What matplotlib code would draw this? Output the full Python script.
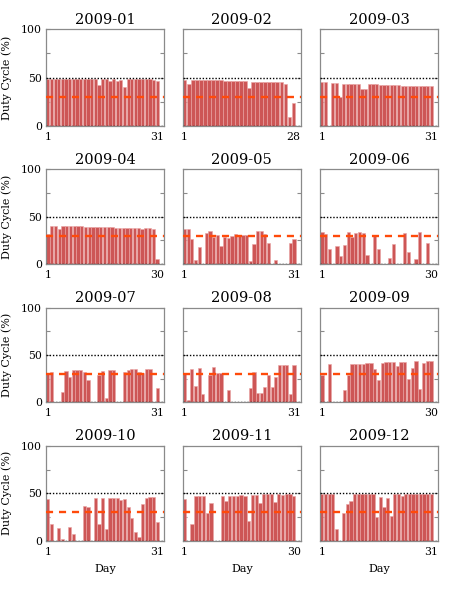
import matplotlib
matplotlib.use("Agg")
import matplotlib.pyplot as plt
import numpy as np

months = ["2009-01", "2009-02", "2009-03", "2009-04", "2009-05", "2009-06",
          "2009-07", "2009-08", "2009-09", "2009-10", "2009-11", "2009-12"]

jan = [49, 49, 49, 49, 49, 48.5, 49, 49, 49, 49, 49, 49, 49, 49, 42, 49, 49, 47, 48.5, 47,
       48, 40, 49, 49, 49, 49, 48.8, 48.8, 48.5, 48, 47]
feb = [47.6, 43.7, 47.6, 47.3, 47.3, 47.3, 47.3, 47.3, 47.3, 47.3, 46.5, 46.5, 46.8, 46.8,
       46.8, 46.2, 39, 45.8, 45.8, 45.8, 45.8, 45.8, 45.8, 45, 45, 43.4, 9, 24]
mar = [45, 45, 0, 44.3, 44.3, 30.5, 43.5, 43.8, 43.5, 43.3, 43.3, 38.5, 38.5, 43, 43, 43,
       42, 42.3, 42.3, 42, 42, 42, 41.8, 41.8, 41.5, 41.5, 41.3, 41.3, 41, 41, 41]
apr = [32, 40, 40, 36.7, 40, 40, 39.8, 39.8, 39.6, 39.6, 39.3, 39, 38.8, 38.8, 38.8, 38.8,
       38.6, 38.6, 38.3, 38.3, 38, 38, 38, 38, 37.5, 36.5, 37.5, 37.5, 36.5, 5]
may = [37, 37, 26, 4.5, 18, 0, 33, 35, 28, 31, 19, 29, 27, 29.5, 31.5, 30.5, 30.5, 31, 3.5,
       20.6, 35, 35, 31.5, 22.7, 0, 4.5, 0, 0, 0, 21.7, 26.6]
jun = [33.6, 31.5, 15.4, 0, 19, 8.4, 20, 33.6, 28.7, 33, 33.6, 32.5, 9, 0, 29.7, 16, 0, 0,
       6, 20.6, 0, 0, 33.2, 13, 0, 5, 33.6, 0, 22, 0]
jul = [30, 32, 0, 0, 11, 32.7, 27, 34, 34, 34, 32, 24, 0, 0, 29, 32.7, 5, 33.8, 33.8, 0, 0,
       32, 34.5, 35.6, 35.6, 32.4, 30.6, 35.6, 35, 0, 14.8]
aug = [30, 2.5, 35.6, 17.3, 36.3, 8.8, 0, 28.5, 37, 30.6, 30.6, 0, 13.4, 0, 0, 0, 0, 0, 15,
       32, 9.9, 9.9, 16.5, 29.2, 16.5, 27, 39, 39, 39, 8.8, 39.8]
sep = [29.2, 0, 40, 0, 0, 0, 12.7, 28.5, 40.5, 40.5, 41, 41, 41.5, 41.5, 35.6, 23.6, 42,
       42.6, 42.6, 42.6, 38.7, 43, 43, 24.3, 36.6, 43.7, 14, 41.5, 44, 44]
oct_ = [43.7, 17.4, 0, 13.2, 2.6, 0, 14.6, 7.2, 0, 0, 37, 35.6, 0, 44.7, 18, 44.7, 12.8,
        45.4, 45.4, 45, 43.3, 44.4, 35.6, 23.7, 9.3, 4.4, 38.4, 45, 45.8, 45.8, 20.2]
nov = [43.7, 0, 17.4, 47, 47, 47, 29, 39.6, 0, 0, 47.4, 41.8, 47, 47.7, 47, 48.4, 47, 21,
       48.4, 48.4, 39.6, 48.8, 48.8, 48.8, 40.7, 48.8, 48.4, 48.8, 48.8, 47.4]
dec = [49.1, 49.1, 49.1, 49.1, 13, 0, 29.5, 39.3, 42, 48.8, 48.8, 48.8, 48.8, 48.8, 48.8,
       25, 46, 35.4, 44.6, 26.3, 48.8, 48.8, 47, 48.8, 49.1, 49.1, 48.8, 49.1, 48.8, 48.8, 48.8]

series = [jan, feb, mar, apr, may, jun, jul, aug, sep, oct_, nov, dec]

ref_dotted = 50
ref_dashed = 30
y_ticks = [0, 50, 100]

SERIF = "DejaVu Serif"
plt.rcParams["font.family"] = SERIF

W, H = 457, 602
fig = plt.figure(figsize=(W / 100, H / 100), dpi=100)

col_left = [46.0, 182.7, 320.0]
col_w = 118.3
row_top = [29.3, 169.3, 307.7, 445.7]
row_bot = [126.0, 264.0, 402.3, 541.0]

frame_col = "#8a8a8a"

for i, (name, vals) in enumerate(zip(months, series)):
    r, c = divmod(i, 3)
    ax = fig.add_axes([col_left[c] / W, 1 - row_bot[r] / H, col_w / W,
                       (row_bot[r] - row_top[r]) / H])
    n = len(vals)
    days = np.arange(1, n + 1)
    ax.bar(days, vals, width=0.88, color="#cd5656", edgecolor="#eaa3a3",
           linewidth=0.4, zorder=2)
    ax.axhline(ref_dotted, color="black", lw=1.0, ls=(0, (1, 1.3)), zorder=3)
    ax.axhline(0, color="black", lw=1.0, ls=(0, (1, 1.3)), zorder=3)
    ax.axhline(ref_dashed, color="#ff4a0a", lw=1.7, ls=(0, (3.0, 2.5)), zorder=4)
    ax.set_xlim(0.5, n + 1.9)
    ax.set_ylim(0, 100)
    ax.set_xticks([1, n])
    ax.set_xticklabels(["1", str(n)], fontsize=7.8)
    ax.set_yticks(y_ticks)
    ax.set_yticks([25, 75], minor=True)
    ax.tick_params(axis="both", which="both", direction="in", color=frame_col,
                   length=3, width=0.8, right=True, pad=3)
    ax.tick_params(axis="x", length=0, pad=4)
    if c == 0:
        ax.set_yticklabels([str(t) for t in y_ticks], fontsize=7.8)
        ax.set_ylabel("Duty Cycle (%)", fontsize=8)
        ax.yaxis.set_label_coords(-0.29, 0.5)
    else:
        ax.set_yticklabels([])
    if r == 3:
        ax.set_xlabel("Day", fontsize=8)
        ax.xaxis.set_label_coords(0.5, -0.24)
    for s in ax.spines.values():
        s.set_color(frame_col)
        s.set_linewidth(0.9)
    ax.set_title(name, fontsize=10.5, pad=4)

fig.savefig("out.png", dpi=100)
